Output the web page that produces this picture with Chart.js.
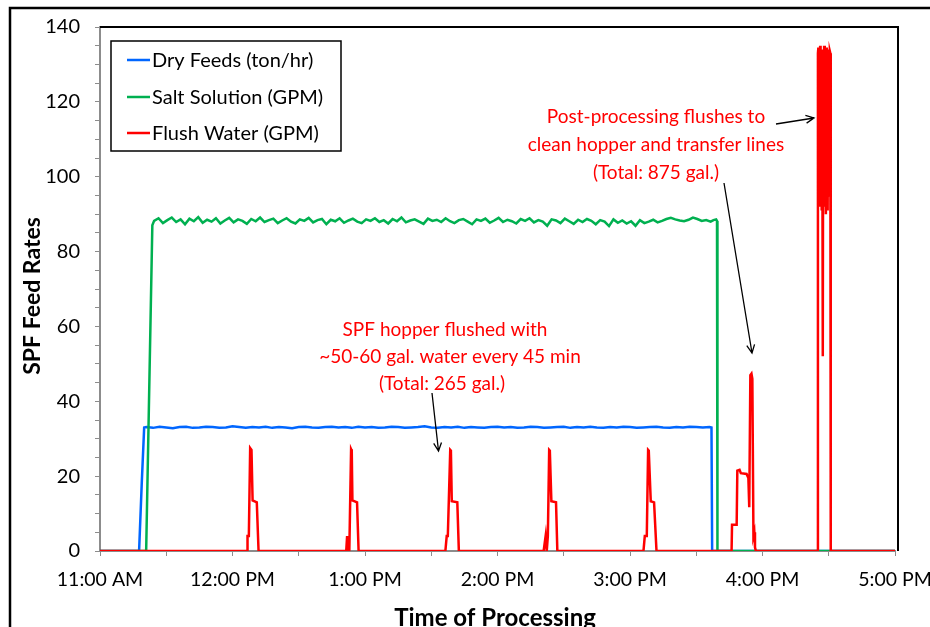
<!DOCTYPE html>
<html>
<head>
<meta charset="utf-8">
<script src="https://cdn.jsdelivr.net/npm/chart.js@4.4.1/dist/chart.umd.min.js"></script>
<style>
  body { margin: 0; background: #fff; }
  #wrap { width: 930px; height: 627px; }
</style>
</head>
<body>
<div id="wrap"><canvas id="feedChart" width="930" height="627"></canvas></div>
<script>
// x values are minutes after 11:00 AM
const hourLabels = ["11:00 AM", "12:00 PM", "1:00 PM", "2:00 PM", "3:00 PM", "4:00 PM", "5:00 PM"];
const seriesNames = ["Dry Feeds (ton/hr)", "Salt Solution (GPM)", "Flush Water (GPM)"];

// dry feeds: start-up edge, steady run (one reading every 3 min), shut-down edge
const dryStartTimes = [0, 17.7, 18.9, 20.0];
const dryStartValues = [0, 0, 18, 33];
const dryRunStart = 21, dryRunStep = 3;
const dryRunValues = [
  33.1, 32.9, 33.2, 33.0, 32.8, 33.1, 33.2, 32.9, 33.0, 33.2, 33.1, 32.9, 33.0, 33.3, 33.1, 32.9, 33.1, 33.0, 33.2, 32.9,
  33.1, 33.0, 32.8, 33.1, 33.2, 33.0, 32.9, 33.1, 33.2, 33.0, 33.1, 32.9, 33.2, 33.0, 33.1, 32.9, 33.0, 33.2, 33.1, 32.9,
  33.0, 33.1, 33.3, 33.0, 32.9, 33.1, 33.0, 33.2, 32.9, 33.1, 33.0, 32.9, 33.1, 33.2, 33.0, 33.1, 32.9, 33.0, 33.2, 33.1,
  32.9, 33.0, 33.1, 33.2, 32.9, 33.1, 33.0, 33.2, 33.0, 32.9, 33.1, 33.0, 33.2, 33.1, 32.9, 33.0, 33.1, 33.2, 33.0, 32.9,
  33.1, 33.0, 33.2, 33.1, 33.0, 33.1
];
const dryEndTimes = [276.9, 277.2, 360];
const dryEndValues = [33, 0, 0];

// salt solution: one reading every 2 min during the run
const saltStartTimes = [0, 20.9, 23.7];
const saltStartValues = [0, 0, 87];
const saltRunStart = 24.5, saltRunStep = 2;
const saltRunValues = [
  88.2, 88.9, 87.6, 88.4, 89.1, 87.9, 88.6, 87.3, 88.8, 88.1, 89.2, 87.7, 88.5, 88.0, 88.9, 87.5, 88.3, 89.0, 87.8, 88.6,
  88.2, 87.4, 88.7, 88.1, 89.1, 87.9, 88.4, 88.8, 87.6, 88.3, 88.9, 88.0, 87.5, 88.6, 88.2, 89.0, 87.8, 88.4, 88.7, 87.3,
  88.5, 88.1, 88.9, 87.7, 88.3, 88.8, 88.0, 87.6, 88.6, 88.2, 88.9, 87.9, 88.4, 87.5, 88.7, 88.1, 89.1, 87.8, 88.3, 88.6,
  88.0, 87.4, 88.8, 88.2, 88.5, 87.9, 88.9, 88.1, 87.6, 88.4, 88.7, 88.0, 87.3, 88.6, 88.2, 88.8, 87.7, 88.3, 89.0, 87.9,
  88.5, 88.1, 87.5, 88.7, 88.2, 88.9, 87.8, 88.4, 88.0, 86.9, 88.6, 88.3, 87.6, 88.8, 88.1, 87.4, 88.5, 87.9, 88.7, 88.2,
  87.3, 88.4, 88.0, 86.8, 88.6, 87.7, 88.3, 87.5, 88.1, 86.9, 88.4, 87.6, 88.0, 88.5, 87.8, 88.2, 88.7, 89.0, 88.6, 88.3,
  88.1, 88.5, 89.1, 88.7, 88.2, 88.4, 88.0
];
const saltEndTimes = [277.8, 279.0, 279.4, 279.6, 360];
const saltEndValues = [88.4, 88.6, 88.2, 0, 0];

// flush water
const flushTimes = [
  0,
  66.6, 66.8, 67.4, 68.0, 68.6, 69.1, 71.0, 71.8,
  111.5, 111.9, 112.3, 112.6, 112.9, 113.7, 114.0, 114.3, 116.4, 117.1,
  156.4, 157.0, 157.5, 158.6, 158.9, 159.3, 161.8, 162.5,
  200.9, 201.8, 202.3, 202.8, 203.4, 203.7, 204.4, 206.5, 207.1,
  246.1, 246.7, 247.6, 248.2, 248.5, 249.4, 250.9, 252.0,
  286.0, 286.2, 288.3, 288.6, 289.6, 290.2, 292.8, 293.6, 294.0, 294.5, 295.0, 295.4, 295.9, 296.3, 296.6, 297.0,
  324.9, 325.1, 325.3, 325.5, 325.7, 325.9, 326.1, 326.3, 326.5, 326.7, 326.9, 327.1, 327.3, 327.5, 327.7, 327.9,
  328.1, 328.3, 328.5, 328.7, 328.9, 329.1, 329.3, 329.5, 329.7, 329.9, 330.1, 330.3, 330.5, 330.7, 330.9,
  360
];
const flushValues = [
  0,
  0, 4, 4, 27.5, 27, 13.5, 13, 0,
  0, 4, 4, 0, 0, 27.2, 26.8, 13.5, 13, 0,
  0, 4, 4, 27, 26.8, 13.3, 13, 0,
  0, 4, 0, 4, 27, 26.8, 13.3, 13, 0,
  0, 4, 4, 27, 26.8, 13.3, 13, 0,
  0, 7, 7, 21.5, 21.7, 20.8, 20.6, 19.5, 11.7, 47, 47.4, 46, 4, 5, 1, 0,
  0, 133, 134.5, 96, 134, 92, 135, 104, 134, 91, 133.5, 110, 52, 134, 98, 135,
  92, 134, 118, 90, 134.5, 101, 133, 91, 134, 124, 133, 95, 133.5, 133, 0,
  0
];

function zip(times, values) {
  return times.map((t, i) => ({ x: t, y: values[i] }));
}
function run(start, step, values) {
  return values.map((v, i) => ({ x: start + step * i, y: v }));
}

const dryData = zip(dryStartTimes, dryStartValues)
  .concat(run(dryRunStart, dryRunStep, dryRunValues), zip(dryEndTimes, dryEndValues));
const saltData = zip(saltStartTimes, saltStartValues)
  .concat(run(saltRunStart, saltRunStep, saltRunValues), zip(saltEndTimes, saltEndValues));
const flushData = zip(flushTimes, flushValues);

const colors = { dry: "#0066FF", salt: "#00B050", flush: "#FF0000" };
const font = "Lato";

function arrow(ctx, x1, y1, x2, y2) {
  const ang = Math.atan2(y2 - y1, x2 - x1);
  const h = 9;
  ctx.beginPath();
  ctx.moveTo(x1, y1);
  ctx.lineTo(x2, y2);
  ctx.moveTo(x2 - h * Math.cos(ang - 0.45), y2 - h * Math.sin(ang - 0.45));
  ctx.lineTo(x2, y2);
  ctx.lineTo(x2 - h * Math.cos(ang + 0.45), y2 - h * Math.sin(ang + 0.45));
  ctx.stroke();
}

const decorations = {
  id: "decorations",
  afterDraw(chart) {
    const ctx = chart.ctx;
    const a = chart.chartArea;
    ctx.save();

    // outer frame
    ctx.strokeStyle = "#000";
    ctx.lineWidth = 2.5;
    ctx.strokeRect(10, 8, 1000, 1000);

    // plot area top and right border
    ctx.lineWidth = 2;
    ctx.beginPath();
    ctx.moveTo(a.left, a.top);
    ctx.lineTo(a.right + 3, a.top);
    ctx.lineTo(a.right + 3, a.bottom);
    ctx.stroke();

    // legend
    ctx.lineWidth = 1.5;
    ctx.strokeRect(111, 41, 230, 110);
    const legColors = [colors.dry, colors.salt, colors.flush];
    const legY = [60, 97, 133];
    ctx.font = "20px " + font;
    ctx.textBaseline = "middle";
    ctx.textAlign = "left";
    seriesNames.forEach((name, i) => {
      ctx.strokeStyle = legColors[i];
      ctx.lineWidth = 2.5;
      ctx.beginPath();
      ctx.moveTo(127, legY[i]);
      ctx.lineTo(150, legY[i]);
      ctx.stroke();
      ctx.fillStyle = "#000";
      ctx.fillText(name, 152, legY[i] + 1);
    });

    // notes
    ctx.font = "19px " + font;
    ctx.fillStyle = colors.flush;
    ctx.textAlign = "center";
    ctx.textBaseline = "alphabetic";
    ctx.fillText("SPF hopper flushed with", 445, 336);
    ctx.fillText("~50-60 gal. water every 45 min", 450, 363);
    ctx.fillText("(Total: 265 gal.)", 442, 390);
    ctx.fillText("Post-processing flushes to", 656, 123);
    ctx.fillText("clean hopper and transfer lines", 656, 151);
    ctx.fillText("(Total: 875 gal.)", 656, 179);

    ctx.strokeStyle = "#000";
    ctx.lineWidth = 1.3;
    arrow(ctx, 432, 393, 438.5, 451);
    arrow(ctx, 724, 183, 752, 353);
    arrow(ctx, 776, 124, 814, 118);

    // axis titles
    ctx.fillStyle = "#000";
    ctx.textBaseline = "middle";
    ctx.font = "bold 23px " + font;
    ctx.save();
    ctx.translate(33, 296);
    ctx.rotate(-Math.PI / 2);
    ctx.fillText("SPF Feed Rates", 0, 0);
    ctx.restore();
    ctx.font = "bold 24px " + font;
    ctx.fillText("Time of Processing", 495, 618);

    ctx.restore();
  }
};

const line = (data, color) => ({
  data: data,
  borderColor: color,
  backgroundColor: color,
  borderWidth: 2.5,
  pointRadius: 0,
  tension: 0,
  fill: false
});

const chart = new Chart(document.getElementById("feedChart"), {
  type: "line",
  data: {
    // first dataset is painted last, so flush water sits on top
    datasets: [
      Object.assign(line(flushData, colors.flush), { label: seriesNames[2] }),
      Object.assign(line(saltData, colors.salt), { label: seriesNames[1] }),
      Object.assign(line(dryData, colors.dry), { label: seriesNames[0] })
    ]
  },
  options: {
    responsive: false,
    animation: false,
    layout: { padding: { left: 0, top: 23, right: 35, bottom: 0 } },
    plugins: { legend: { display: false }, tooltip: { enabled: false } },
    scales: {
      x: {
        type: "linear",
        min: 0,
        max: 360,
        afterFit: (s) => { s.height = 76; s.paddingLeft = 0; s.paddingRight = 0; },
        grid: { drawOnChartArea: false, drawTicks: true, tickLength: 5, color: "#8c8c8c", lineWidth: 1 },
        border: { color: "#8c8c8c", width: 2 },
        ticks: {
          stepSize: 30,
          autoSkip: false,
          maxRotation: 0,
          padding: 12,
          color: "#000",
          font: { family: font, size: 19.5 },
          callback: (v) => (v % 60 === 0 ? hourLabels[v / 60] : "")
        }
      },
      y: {
        min: 0,
        max: 140,
        afterFit: (s) => { s.width = 100; },
        grid: { drawOnChartArea: false, drawTicks: true, tickLength: 5, color: "#8c8c8c", lineWidth: 1 },
        border: { color: "#8c8c8c", width: 2 },
        ticks: {
          stepSize: 5,
          autoSkip: false,
          padding: 15,
          color: "#000",
          font: { family: font, size: 20 },
          callback: (v) => (v % 20 === 0 ? String(v) : "")
        }
      }
    }
  },
  plugins: [decorations]
});
</script>
</body>
</html>
